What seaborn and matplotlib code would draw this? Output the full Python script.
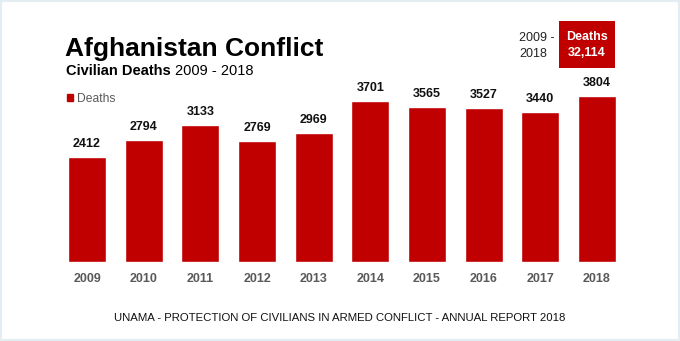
import matplotlib
matplotlib.use("Agg")
import matplotlib.pyplot as plt
from matplotlib.patches import Rectangle, Patch
import seaborn as sns
import pandas as pd

years = ["2009", "2010", "2011", "2012", "2013", "2014", "2015", "2016", "2017", "2018"]
deaths = [2412, 2794, 3133, 2769, 2969, 3701, 3565, 3527, 3440, 3804]
total_label = "32,114"

RED = "#C00000"
W, H = 680, 341

sns.set_style("white")
plt.rcParams["font.family"] = ["Liberation Sans", "DejaVu Sans"]

fig = plt.figure(figsize=(W / 100, H / 100), dpi=100)
fig.patch.set_facecolor("white")


def fx(px):
    return px / W


def fy(py):
    return 1 - py / H


# bar area in pixel terms
left_px, right_px, top_px, bottom_px = 58.7, 625.3, 80, 262
ax = fig.add_axes([fx(left_px), fy(bottom_px), fx(right_px - left_px), (bottom_px - top_px) / H])

df = pd.DataFrame({"year": years, "deaths": deaths})
sns.barplot(data=df, x="year", y="deaths", color=RED, width=0.67, saturation=1, ax=ax)
ax.set_xlim(-0.5, 9.5)
ax.set_ylim(0, 4175)
for s in ax.spines.values():
    s.set_visible(False)
ax.set_yticks([])
ax.set_xlabel("")
ax.set_ylabel("")
ax.tick_params(axis="x", length=0, pad=8)
for lbl in ax.get_xticklabels():
    lbl.set_fontweight("bold")
    lbl.set_color("#595959")
    lbl.set_fontsize(9)

ax.bar_label(ax.containers[0], labels=[str(v) for v in deaths], padding=5,
             fontsize=9, fontweight="bold", color="#111111")

# legend
ax.legend(handles=[Patch(color=RED, label="Deaths")], loc="center left",
          bbox_to_anchor=(fx(67), fy(99)), bbox_transform=fig.transFigure,
          frameon=False, handlelength=0.5, handleheight=0.5, handletextpad=0.3,
          fontsize=8.7, labelcolor="#595959", borderpad=0, borderaxespad=0)

# titles
fig.text(fx(65), fy(56), "Afghanistan Conflict", fontsize=19, fontweight="bold",
         color="#000000", va="baseline", ha="left")
t1 = fig.text(fx(66), fy(75), "Civilian Deaths ", fontsize=10.5, fontweight="bold",
              color="#000000", va="baseline", ha="left")
fig.canvas.draw()
bb = t1.get_window_extent()
fig.text(bb.x1 / W, fy(75), "2009 - 2018", fontsize=10.5, color="#000000",
         va="baseline", ha="left")

# total box
fig.text(fx(519), fy(41), "2009 -", fontsize=9, color="#222222", va="baseline", ha="left")
fig.text(fx(519), fy(57), "2018", fontsize=9, color="#222222", va="baseline", ha="left")
fig.patches.append(Rectangle((fx(559), fy(68)), fx(56), 47 / H, transform=fig.transFigure,
                             facecolor=RED, edgecolor="none"))
fig.text(fx(587), fy(40), "Deaths", fontsize=9, fontweight="bold", color="white",
         va="baseline", ha="center")
fig.text(fx(587), fy(56), total_label, fontsize=9, fontweight="bold", color="white",
         va="baseline", ha="center")

# source line
fig.text(fx(340), fy(321), "UNAMA - PROTECTION OF CIVILIANS IN ARMED CONFLICT - ANNUAL REPORT 2018",
         fontsize=8.2, color="#111111", va="baseline", ha="center")

# thin frame around the image
fig.patches.append(Rectangle((0, 0), 1, 1, transform=fig.transFigure, facecolor="none",
                             edgecolor="#E4EDF2", linewidth=3))

fig.savefig("out.png", dpi=100)
